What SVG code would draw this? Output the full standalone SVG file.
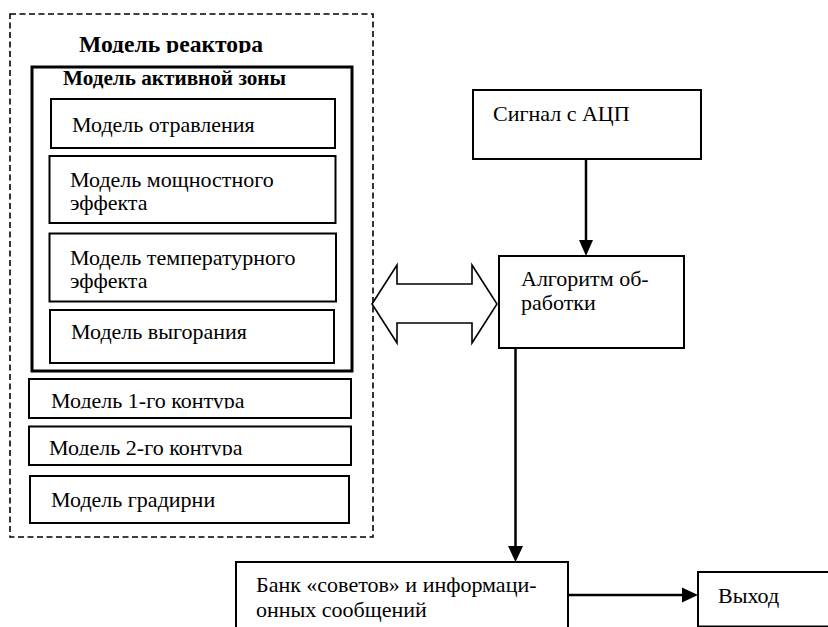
<svg xmlns="http://www.w3.org/2000/svg" width="828" height="627" viewBox="0 0 828 627">
<style>
  text { font-family: "Liberation Serif", "Times New Roman", serif; fill: #000; }
  .t { font-size: 22px; }
  .b { font-weight: bold; }
  .box { fill: #fff; stroke: #000; stroke-width: 2; }
  .zone { fill: none; stroke: #000; stroke-width: 3; }
  .dash { fill: none; stroke: #000; stroke-width: 1.6; stroke-dasharray: 6 3.5; }
  .line { fill: none; stroke: #000; stroke-width: 2.5; }
  .head { fill: #000; stroke: none; }
  .dbl { fill: #fff; stroke: #000; stroke-width: 1.6; stroke-linejoin: miter; }
</style>
<defs>
  <clipPath id="clipTitle"><rect x="0" y="0" width="380" height="53"/></clipPath>
  <clipPath id="clip1"><rect x="30" y="380" width="320" height="28.5"/></clipPath>
  <clipPath id="clip2"><rect x="30" y="427" width="320" height="28.5"/></clipPath>
</defs>
<rect width="828" height="627" fill="#fff"/>

<g id="reactor">
  <rect class="dash" x="10" y="14" width="363" height="523"/>
  <text class="b" x="79" y="52" font-size="23.6" clip-path="url(#clipTitle)">Модель реактора</text>
</g>

<g id="active-zone">
  <rect class="zone" x="32" y="67" width="320" height="304"/>
  <text class="b" x="63" y="84.5" font-size="21.2">Модель активной зоны</text>
</g>

<g id="poisoning">
  <rect class="box" x="51" y="99" width="284" height="49"/>
  <text class="t" x="72" y="132">Модель отравления</text>
</g>

<g id="power-effect">
  <rect class="box" x="49.5" y="156" width="286" height="67"/>
  <text class="t" x="70" y="187">Модель мощностного</text>
  <text class="t" x="70" y="210">эффекта</text>
</g>

<g id="temp-effect">
  <rect class="box" x="49.5" y="233.5" width="286.5" height="68"/>
  <text class="t" x="70" y="265">Модель температурного</text>
  <text class="t" x="70" y="288">эффекта</text>
</g>

<g id="burnup">
  <rect class="box" x="50" y="310" width="284" height="53"/>
  <text class="t" x="71" y="339">Модель выгорания</text>
</g>

<g id="loop1">
  <rect class="box" x="29" y="379" width="322" height="39"/>
  <text class="t" x="51" y="408" clip-path="url(#clip1)">Модель 1-го контура</text>
</g>

<g id="loop2">
  <rect class="box" x="29" y="426.5" width="322" height="38.5"/>
  <text class="t" x="49" y="455" clip-path="url(#clip2)">Модель 2-го контура</text>
</g>

<g id="tower">
  <rect class="box" x="30" y="476" width="319" height="47"/>
  <text class="t" x="51" y="507">Модель градирни</text>
</g>

<g id="adc">
  <rect class="box" x="473" y="90" width="228" height="69"/>
  <text class="t" x="493" y="121">Сигнал с АЦП</text>
</g>

<g id="algorithm">
  <rect class="box" x="499" y="256" width="185" height="92"/>
  <text class="t" x="521" y="286" font-size="21.5">Алгоритм об-</text>
  <text class="t" x="521" y="310" font-size="21.5">работки</text>
</g>

<g id="bank">
  <rect class="box" x="236" y="562" width="332" height="80"/>
  <text class="t" x="256" y="592" font-size="21.4">Банк «советов» и информаци-</text>
  <text class="t" x="256" y="617" font-size="21.4">онных сообщений</text>
</g>

<g id="output">
  <rect class="box" x="698" y="572" width="150" height="54.5"/>
  <text class="t" x="718" y="603">Выход</text>
</g>

<g id="connectors">
  <line class="line" x1="586" y1="159" x2="586" y2="242"/>
  <polygon class="head" points="579,240 593,240 586,256"/>
  <line class="line" x1="515.5" y1="348" x2="515.5" y2="548"/>
  <polygon class="head" points="508,546 523,546 515.5,562"/>
  <line class="line" x1="568" y1="595" x2="684" y2="595"/>
  <polygon class="head" points="682,587.5 682,602.5 698,595"/>
  <polygon class="dbl" points="372,304 397,265 397,284 472,284 472,265 497,304 472,343 472,323 397,323 397,343"/>
</g>
</svg>
